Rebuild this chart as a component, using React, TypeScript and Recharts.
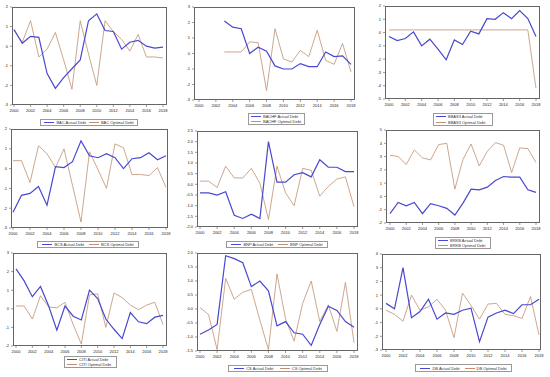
import React from 'react';
import { LineChart, Line, XAxis, YAxis } from 'recharts';

const years = [2000, 2001, 2002, 2003, 2004, 2005, 2006, 2007, 2008, 2009, 2010, 2011, 2012, 2013, 2014, 2015, 2016, 2017, 2018];
const xTicks = [2000, 2002, 2004, 2006, 2008, 2010, 2012, 2014, 2016, 2018];

// actual vs optimal debt, by bank
const bacActual = [0.85, 0.15, 0.5, 0.45, -1.4, -2.15, -1.6, -1.15, -0.7, 1.3, 1.65, 0.8, 0.75, -0.15, 0.2, 0.3, 0.0, -0.1, -0.05];
const bacOptimal = [0.8, 0.2, 1.3, -0.55, -0.15, 0.7, -0.7, -2.2, 1.3, -0.4, -2.0, 1.3, 0.75, 0.35, -0.25, 0.6, -0.55, -0.55, -0.6];

const bachfActual = [null, null, null, 2.1, 1.7, 1.6, 0.0, 0.4, 0.15, -0.8, -1.0, -1.0, -0.65, -0.85, -0.85, 0.1, -0.2, -0.15, -0.7];
const bachfOptimal = [null, null, null, 0.1, 0.1, 0.1, 0.75, 0.7, -2.4, 1.6, -0.35, -0.55, 0.2, -0.2, 1.5, -0.45, -0.7, 0.65, -1.2];

const bbas3Actual = [-0.3, -0.6, -0.45, 0.05, -1.0, -0.5, -1.25, -2.05, -0.55, -0.9, 0.1, -0.1, 1.05, 1.0, 1.5, 1.05, 1.65, 1.05, -0.3];
const bbas3Optimal = [0.2, 0.2, 0.2, 0.2, 0.2, 0.2, 0.2, 0.2, 0.2, 0.2, 0.2, 0.2, 0.2, 0.2, 0.2, 0.2, 0.2, 0.2, -4.2];

const bcsActual = [-2.2, -1.35, -1.25, -0.9, -1.85, 0.1, 0.05, 0.35, 1.4, 0.65, 0.55, 0.75, 0.55, 0.0, 0.5, 0.55, 0.8, 0.45, 0.65];
const bcsOptimal = [0.4, 0.4, -0.7, 1.15, 0.75, 0.05, 1.0, -0.85, -2.7, 0.85, -0.05, -1.0, 1.25, 1.05, -0.3, -0.3, -0.35, 0.05, -0.95];

const bnpActual = [-0.4, -0.4, -0.5, -0.35, -1.45, -1.6, -1.4, -1.6, 2.0, 0.1, 0.1, 0.45, 0.55, 0.35, 1.15, 0.8, 0.8, 0.6, 0.6];
const bnpOptimal = [0.15, 0.15, -0.15, 0.85, 0.3, 0.3, 0.75, 0.05, -1.65, 0.85, -0.4, -1.0, 0.75, 0.65, -0.55, -0.1, 0.25, 0.35, -1.05];

const brkbActual = [-1.3, -0.45, -0.7, -0.45, -1.3, -0.55, -0.7, -0.9, -1.4, -0.5, 0.55, 0.5, 0.7, 1.2, 1.5, 1.45, 1.45, 0.5, 0.3];
const brkbOptimal = [3.1, 3.0, 2.4, 3.5, 2.9, 2.75, 3.9, 4.0, 0.55, 2.8, 3.95, 2.3, 3.4, 4.05, 3.85, 1.8, 3.65, 3.6, 2.55];

const citiActual = [2.15, 1.5, 0.65, 1.2, 0.15, -1.15, 0.15, -0.4, -0.6, 1.0, 0.55, -0.55, -1.1, -1.6, -0.2, -0.7, -0.8, -0.45, -0.35];
const citiOptimal = [0.15, 0.15, -0.55, 0.7, 0.1, 0.05, 0.35, -0.85, -1.9, 0.75, 0.8, -1.0, 0.85, 0.6, 0.2, -0.05, 0.2, 0.35, -0.85];

const csActual = [-0.9, -0.75, -0.55, 1.9, 1.8, 1.65, 0.8, 1.0, 0.65, -0.6, -0.45, -0.85, -0.9, -1.3, -0.55, 0.1, -0.05, -0.45, -0.65];
const csOptimal = [0.05, -0.2, -1.45, 1.1, 0.35, 0.6, 0.7, -0.4, -1.45, 1.25, -0.35, -1.15, 0.2, 1.0, -0.45, 0.15, -0.8, 0.95, -1.2];

const dbActual = [0.4, 0.0, 3.0, -0.65, -0.2, 0.7, -0.75, -0.3, -0.4, -0.1, 0.05, -2.4, -0.6, -0.3, -0.1, -0.35, 0.3, 0.3, 0.7];
const dbOptimal = [-0.1, -0.4, -0.9, 1.0, -0.1, 0.15, 0.7, -0.1, -2.1, 1.15, 0.25, -0.75, 0.35, 0.4, -0.4, -0.5, -0.7, 0.9, -1.9];

const ACTUAL = '#4848d0';
const OPTIMAL = '#c09070';
const FONT = 'Arial, "Liberation Sans", sans-serif';

type Panel = {
  name: string;
  actual: (number | null)[];
  optimal: (number | null)[];
  frame: [number, number, number, number]; // x0, y0, x1, y1
  pad: [number, number];
  yTicks: number[];
  dec: number;
  legend: [number, number, number, number];
  vertical: boolean;
};

const panels: Panel[] = [
  { name: 'BAC', actual: bacActual, optimal: bacOptimal, frame: [12, 7, 167, 105], pad: [2, 4], yTicks: [-3, -2, -1, 0, 1, 2], dec: 0, legend: [40, 119, 98, 7], vertical: false },
  { name: 'BACHF', actual: bachfActual, optimal: bachfOptimal, frame: [194, 7, 355, 100], pad: [5, 4], yTicks: [-3, -2, -1, 0, 1, 2, 3], dec: 0, legend: [248, 113, 57, 12], vertical: true },
  { name: 'BBAS3', actual: bbas3Actual, optimal: bbas3Optimal, frame: [385, 6, 540, 99], pad: [4, 4], yTicks: [-5, -4, -3, -2, -1, 0, 1, 2], dec: 0, legend: [433, 113, 60, 13], vertical: true },
  { name: 'BCS', actual: bcsActual, optimal: bcsOptimal, frame: [11, 129, 168, 228], pad: [2, 2], yTicks: [-3, -2, -1, 0, 1, 2], dec: 0, legend: [37, 241, 102, 7], vertical: false },
  { name: 'BNP', actual: bnpActual, optimal: bnpOptimal, frame: [197, 131, 358, 227], pad: [3, 4], yTicks: [-2, -1.5, -1, -0.5, 0, 0.5, 1, 1.5, 2, 2.5], dec: 1, legend: [226, 241, 102, 7], vertical: false },
  { name: 'BRKB', actual: brkbActual, optimal: brkbOptimal, frame: [386, 130, 540, 223], pad: [4, 4], yTicks: [-2, -1, 0, 1, 2, 3, 4, 5], dec: 0, legend: [435, 237, 56, 12], vertical: true },
  { name: 'CITI', actual: citiActual, optimal: citiOptimal, frame: [13, 253, 167, 346], pad: [3, 4], yTicks: [-2, -1, 0, 1, 2, 3], dec: 0, legend: [64, 356, 53, 12], vertical: true },
  { name: 'CS', actual: csActual, optimal: csOptimal, frame: [197, 253, 358, 351], pad: [3, 4], yTicks: [-1.5, -1, -0.5, 0, 0.5, 1, 1.5, 2], dec: 1, legend: [228, 365, 100, 7], vertical: false },
  { name: 'DB', actual: dbActual, optimal: dbOptimal, frame: [382, 254, 541, 350], pad: [4, 2], yTicks: [-3, -2, -1, 0, 1, 2, 3, 4], dec: 0, legend: [415, 364, 97, 8], vertical: false },
];

const YW = 12;
const XH = 9;
const MT = 4;
const MR = 8;

const LegendItem = ({ color, width, label }: { color: string; width: number; label: string }) => (
  <div style={{ display: 'flex', alignItems: 'center', gap: 2 }}>
    <span style={{ display: 'inline-block', width: 10, height: 0, borderTop: `${width}px solid ${color}` }} />
    <span>{label}</span>
  </div>
);

const PanelChart = ({ p }: { p: Panel }) => {
  const [x0, y0, x1, y1] = p.frame;
  const data = years.map((year, i) => ({ year, actual: p.actual[i], optimal: p.optimal[i] }));
  const lo = p.yTicks[0];
  const hi = p.yTicks[p.yTicks.length - 1];
  const [lx, ly, lw, lh] = p.legend;
  return (
    <>
      <div style={{ position: 'absolute', left: x0 - YW, top: y0 - MT }}>
        <LineChart
          width={x1 - x0 + YW + MR}
          height={y1 - y0 + XH + MT}
          data={data}
          margin={{ top: MT, right: MR, left: 0, bottom: 0 }}
        >
          <XAxis
            dataKey="year"
            type="number"
            domain={[2000, 2018]}
            ticks={xTicks}
            padding={{ left: p.pad[0], right: p.pad[1] }}
            height={XH}
            axisLine={false}
            tickSize={2}
            tickLine={{ stroke: '#555', strokeWidth: 0.6 }}
            tick={{ fontSize: 4, fill: '#222', fontFamily: FONT }}
            interval={0}
          />
          <YAxis
            type="number"
            domain={[lo, hi]}
            ticks={p.yTicks}
            width={YW}
            axisLine={false}
            tickSize={2}
            tickLine={{ stroke: '#555', strokeWidth: 0.6 }}
            tick={{ fontSize: 4, fill: '#222', fontFamily: FONT }}
            tickFormatter={(v: number) => v.toFixed(p.dec)}
            interval={0}
          />
          <Line dataKey="optimal" stroke={OPTIMAL} strokeWidth={0.8} dot={false} isAnimationActive={false} connectNulls={false} />
          <Line dataKey="actual" stroke={ACTUAL} strokeWidth={1.2} dot={false} isAnimationActive={false} connectNulls={false} />
        </LineChart>
      </div>
      <div
        style={{
          position: 'absolute', left: x0, top: y0, width: x1 - x0, height: y1 - y0,
          border: '0.7px solid #666', boxSizing: 'border-box', pointerEvents: 'none',
        }}
      />
      <div
        style={{
          position: 'absolute', left: lx, top: ly, width: lw, height: lh, boxSizing: 'border-box',
          border: '0.6px solid #999', fontSize: 4, fontFamily: FONT, color: '#333', lineHeight: '5px',
          display: 'flex', flexDirection: p.vertical ? 'column' : 'row', justifyContent: 'space-around',
          alignItems: p.vertical ? 'flex-start' : 'center', padding: '0 2px',
        }}
      >
        <LegendItem color={ACTUAL} width={1} label={`${p.name} Actual Debt`} />
        <LegendItem color={OPTIMAL} width={0.7} label={`${p.name} Optimal Debt`} />
      </div>
    </>
  );
};

export default function App() {
  return (
    <div style={{ position: 'absolute', left: 0, top: 0, width: 550, height: 377, background: '#fff', overflow: 'hidden' }}>
      {panels.map((p) => (
        <PanelChart key={p.name} p={p} />
      ))}
    </div>
  );
}
